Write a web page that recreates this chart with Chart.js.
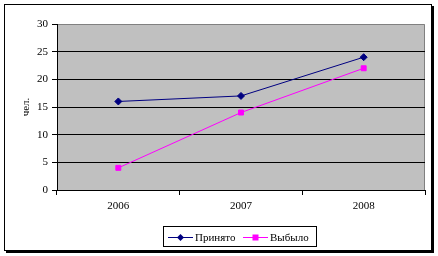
<!DOCTYPE html>
<html><head><meta charset="utf-8">
<script src="https://cdn.jsdelivr.net/npm/chart.js@4/dist/chart.umd.min.js"></script>
<style>html,body{margin:0;padding:0;background:#fff;}#wrap{width:438px;height:256px;}</style>
</head><body><div id="wrap"><canvas id="c" width="438" height="256"></canvas></div>
<script>
const categories = ['2006', '2007', '2008'];
const prinyato = [16, 17, 24];
const vybylo = [4, 14, 22];
const seriesNames = ['Принято', 'Выбыло'];
const yTitle = 'чел.';
const SERIF = '"Liberation Serif", "Times New Roman", serif';

const frame = {
  id: 'frame',
  beforeDraw(chart) {
    const {ctx, chartArea: a} = chart;
    ctx.save();
    ctx.fillStyle = '#fff';
    ctx.fillRect(0, 0, chart.width, chart.height);
    ctx.fillStyle = '#C0C0C0';
    ctx.fillRect(a.left, a.top, a.right - a.left, a.bottom - a.top);
    ctx.strokeStyle = '#808080';
    ctx.lineWidth = 1;
    ctx.beginPath();
    ctx.moveTo(a.left, a.top + 0.5); ctx.lineTo(a.right - 0.5, a.top + 0.5); ctx.lineTo(a.right - 0.5, a.bottom);
    ctx.stroke();
    // outer border
    ctx.strokeStyle = '#000';
    ctx.strokeRect(4.5, 4.5, 427, 246);
    ctx.fillStyle = '#000';
    ctx.fillRect(432, 6, 2, 247);
    ctx.fillRect(6, 251, 428, 2);
    ctx.restore();
  },
  afterDraw(chart) {
    const {ctx} = chart;
    ctx.save();
    ctx.strokeStyle = '#000';
    ctx.lineWidth = 1;
    ctx.strokeRect(163.5, 226.5, 153, 20);
    const items = [
      {x: 168, color: '#000080', style: 'diamond', text: seriesNames[0]},
      {x: 243, color: '#FF00FF', style: 'square', text: seriesNames[1]}
    ];
    const y = 237;
    ctx.font = '11px ' + SERIF;
    ctx.textBaseline = 'middle';
    items.forEach(it => {
      ctx.strokeStyle = it.color;
      ctx.beginPath(); ctx.moveTo(it.x, y + 0.5); ctx.lineTo(it.x + 25, y + 0.5); ctx.stroke();
      ctx.fillStyle = it.color;
      const cx = it.x + 12.5, cy = y + 0.5;
      if (it.style === 'diamond') {
        ctx.beginPath(); ctx.moveTo(cx, cy - 3.5); ctx.lineTo(cx + 3.5, cy); ctx.lineTo(cx, cy + 3.5); ctx.lineTo(cx - 3.5, cy); ctx.closePath(); ctx.fill();
      } else {
        ctx.fillRect(cx - 3, cy - 3, 6, 6);
      }
      ctx.fillStyle = '#000';
      ctx.fillText(it.text, it.x + 27, y + 1);
    });
    ctx.restore();
  }
};

new Chart(document.getElementById('c'), {
  type: 'line',
  data: {
    labels: categories,
    datasets: [
      {label: seriesNames[0], data: prinyato, borderColor: '#000080', backgroundColor: '#000080',
       borderWidth: 1, pointStyle: 'rectRot', pointRadius: 3.5, pointHoverRadius: 3.5, tension: 0},
      {label: seriesNames[1], data: vybylo, borderColor: '#FF00FF', backgroundColor: '#FF00FF',
       borderWidth: 1, pointStyle: 'rect', pointRadius: 3.5, pointHoverRadius: 3.5, tension: 0}
    ]
  },
  options: {
    responsive: false,
    animation: false,
    devicePixelRatio: 1,
    layout: {padding: {left: 0, top: 24, right: 13, bottom: 0}},
    plugins: {legend: {display: false}, tooltip: {enabled: false}},
    scales: {
      x: {
        offset: true,
        afterFit(s) { s.height = 66; },
        grid: {offset: true, drawOnChartArea: false, drawTicks: true, tickLength: 5, tickColor: '#000'},
        border: {color: '#000', width: 1},
        ticks: {color: '#000', padding: 5, font: {family: SERIF, size: 11}}
      },
      y: {
        min: 0, max: 30,
        afterFit(s) { s.width = 57; },
        ticks: {stepSize: 5, color: '#000', padding: 4, font: {family: SERIF, size: 11}},
        grid: {color: ctx => (ctx.tick && ctx.tick.value === 30) ? 'rgba(0,0,0,0)' : '#000', tickColor: '#000', tickLength: 5, drawTicks: true},
        border: {color: '#000', width: 1},
        title: {display: true, text: yTitle, color: '#000', font: {family: SERIF, size: 11}, padding: {top: 20, bottom: 0}}
      }
    }
  },
  plugins: [frame]
});
</script></body></html>
